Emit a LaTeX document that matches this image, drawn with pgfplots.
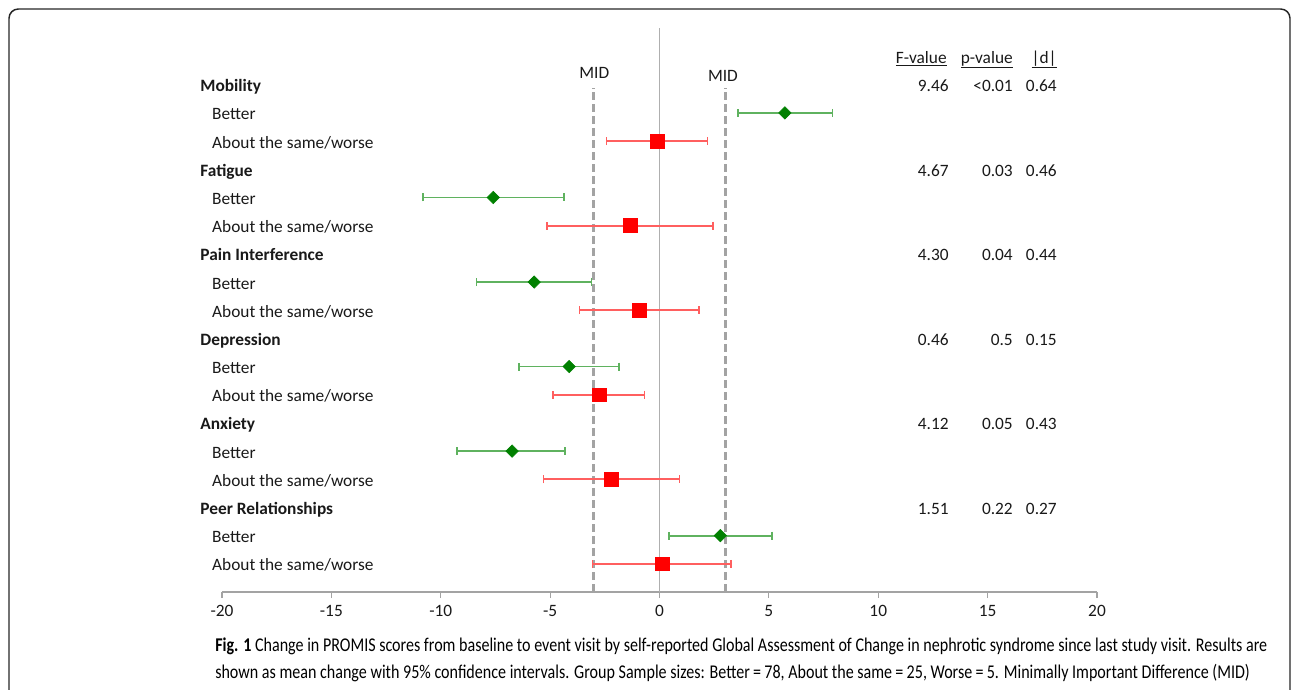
\documentclass[border=0pt]{standalone}
\usepackage{pgfplots}
\pgfplotsset{compat=1.18}
\usepackage{pgfplotstable}
\usepackage{fontspec}
\setmainfont{Carlito}
\newfontfamily\capfont[FakeStretch=0.825]{Carlito}
\definecolor{mgreen}{RGB}{0,128,0}
\definecolor{lgreen}{RGB}{95,178,95}
\definecolor{mred}{RGB}{255,0,0}
\definecolor{lred}{RGB}{255,95,95}
\definecolor{dgray}{RGB}{163,163,163}
\definecolor{zgray}{RGB}{175,175,175}
\definecolor{txt}{RGB}{25,25,25}

\pgfplotstableread{
y mean ep em
17 5.73 2.17 2.14
14 -7.60 3.24 3.20
11 -5.73 2.62 2.63
8 -4.13 2.28 2.28
5 -6.74 2.43 2.51
2 2.78 2.37 2.35
}\better
\pgfplotstableread{
y mean ep em
16 -0.12 2.32 2.30
13 -1.34 3.79 3.80
10 -0.93 2.73 2.73
7 -2.74 2.05 2.14
4 -2.19 3.11 3.12
1 0.11 3.15 3.17
}\same

\tikzset{
  lab/.style={anchor=west, inner sep=0pt, text height=11.5pt, text depth=1pt, text=txt},
  blab/.style={lab, font=\fontsize{13}{15}\selectfont\bfseries},
  col/.style={anchor=east, inner sep=0pt, text height=11.5pt, text depth=1pt, text=txt},
}

\begin{document}
\begin{tikzpicture}[font=\fontsize{13}{15}\selectfont, text=txt]
\useasboundingbox (0,0) rectangle (969pt,516.75pt);
\draw[line width=1.1pt, color=black!85, rounded corners=7pt] (6.75pt,-10pt) -- (6.75pt,510pt) -- (967.5pt,510pt) -- (967.5pt,-10pt);
\begin{axis}[
  at={(166.5pt,72.75pt)}, anchor=south west,
  scale only axis, width=656.25pt, height=422.7pt,
  xmin=-20, xmax=20, ymin=0, ymax=20,
  axis x line=bottom, axis y line=none,
  x axis line style={dgray, line width=0.8pt, -},
  xtick={-20,-15,...,20}, ytick=\empty,
  tick align=outside, major tick length=4.5pt,
  tick style={dgray, line width=0.8pt},
  ticklabel style={text=txt, font=\fontsize{13}{15}\selectfont},
  xticklabel={\pgfmathprintnumber[assume math mode=true]{\tick}},
  xticklabel style={yshift=-2pt},
  clip=false,
]
\draw[zgray, line width=1pt] (axis cs:0,0) -- (axis cs:0,20);
\draw[dgray, line width=2.3pt, dash pattern=on 6pt off 3pt] (axis cs:-3,0) -- (axis cs:-3,17.9);
\draw[dgray, line width=2.3pt, dash pattern=on 6pt off 3pt] (axis cs:3,0) -- (axis cs:3,17.9);
\node[text=txt, inner sep=0pt] at (axis cs:-2.98,18.42) {MID};
\node[text=txt, inner sep=0pt] at (axis cs:2.9,18.31) {MID};

\addplot[only marks, mark=square*, mark size=3.3pt,
  mark options={rotate=45, fill=mgreen, draw=mgreen},
  error bars/.cd, x dir=both, x explicit,
  error bar style={draw=lgreen, line width=1.4pt},
  error mark options={draw=lgreen, mark size=3pt, line width=1.2pt, rotate=90}]
  table[x=mean, y=y, x error plus=ep, x error minus=em] {\better};
\addplot[only marks, mark=square*, mark size=5.2pt,
  mark options={fill=mred, draw=mred},
  error bars/.cd, x dir=both, x explicit,
  error bar style={draw=lred, line width=1.4pt},
  error mark options={draw=lred, mark size=3pt, line width=1.2pt, rotate=90}]
  table[x=mean, y=y, x error plus=ep, x error minus=em] {\same};

% row labels
\node[blab] at (axis cs:-21.0,18) {Mobility};
\node[blab] at (axis cs:-21.0,15) {Fatigue};
\node[blab] at (axis cs:-21.0,12) {Pain Interference};
\node[blab] at (axis cs:-21.0,9) {Depression};
\node[blab] at (axis cs:-21.0,6) {Anxiety};
\node[blab] at (axis cs:-21.0,3) {Peer Relationships};
\node[lab] at (axis cs:-20.46,17) {Better};
\node[lab] at (axis cs:-20.46,14) {Better};
\node[lab] at (axis cs:-20.46,11) {Better};
\node[lab] at (axis cs:-20.46,8) {Better};
\node[lab] at (axis cs:-20.46,5) {Better};
\node[lab] at (axis cs:-20.46,2) {Better};
\node[lab] at (axis cs:-20.46,16) {About the same/worse};
\node[lab] at (axis cs:-20.46,13) {About the same/worse};
\node[lab] at (axis cs:-20.46,10) {About the same/worse};
\node[lab] at (axis cs:-20.46,7) {About the same/worse};
\node[lab] at (axis cs:-20.46,4) {About the same/worse};
\node[lab] at (axis cs:-20.46,1) {About the same/worse};
% columns
\node[col] at (axis cs:13.14,19.02) {\underline{F-value}};
\node[col] at (axis cs:16.16,19.02) {\underline{p-value}};
\node[col] at (axis cs:18.17,19.02) {\underline{|d|}};
\node[col] at (axis cs:13.23,18) {9.46};
\node[col] at (axis cs:16.16,18) {<0.01};
\node[col] at (axis cs:18.17,18) {0.64};
\node[col] at (axis cs:13.23,15) {4.67};
\node[col] at (axis cs:16.16,15) {0.03};
\node[col] at (axis cs:18.17,15) {0.46};
\node[col] at (axis cs:13.23,12) {4.30};
\node[col] at (axis cs:16.16,12) {0.04};
\node[col] at (axis cs:18.17,12) {0.44};
\node[col] at (axis cs:13.23,9) {0.46};
\node[col] at (axis cs:16.16,9) {0.5};
\node[col] at (axis cs:18.17,9) {0.15};
\node[col] at (axis cs:13.23,6) {4.12};
\node[col] at (axis cs:16.16,6) {0.05};
\node[col] at (axis cs:18.17,6) {0.43};
\node[col] at (axis cs:13.23,3) {1.51};
\node[col] at (axis cs:16.16,3) {0.22};
\node[col] at (axis cs:18.17,3) {0.27};
\end{axis}
% caption
\node[anchor=west, inner sep=0pt, text height=9pt, text depth=3pt, text=black, font=\capfont\fontsize{14.6}{16}\selectfont] at (161.25pt,31.5pt) {\textbf{Fig. 1} Change in PROMIS scores from baseline to event visit by self-reported Global Assessment of Change in nephrotic syndrome since last study visit. Results are};
\node[anchor=west, inner sep=0pt, text height=9pt, text depth=3pt, text=black, font=\capfont\fontsize{14.6}{16}\selectfont] at (161.25pt,11pt) {shown as mean change with 95\% confidence intervals. Group Sample sizes: Better\,=\,78, About the same\,=\,25, Worse\,=\,5. Minimally Important Difference (MID)};
\end{tikzpicture}
\end{document}
